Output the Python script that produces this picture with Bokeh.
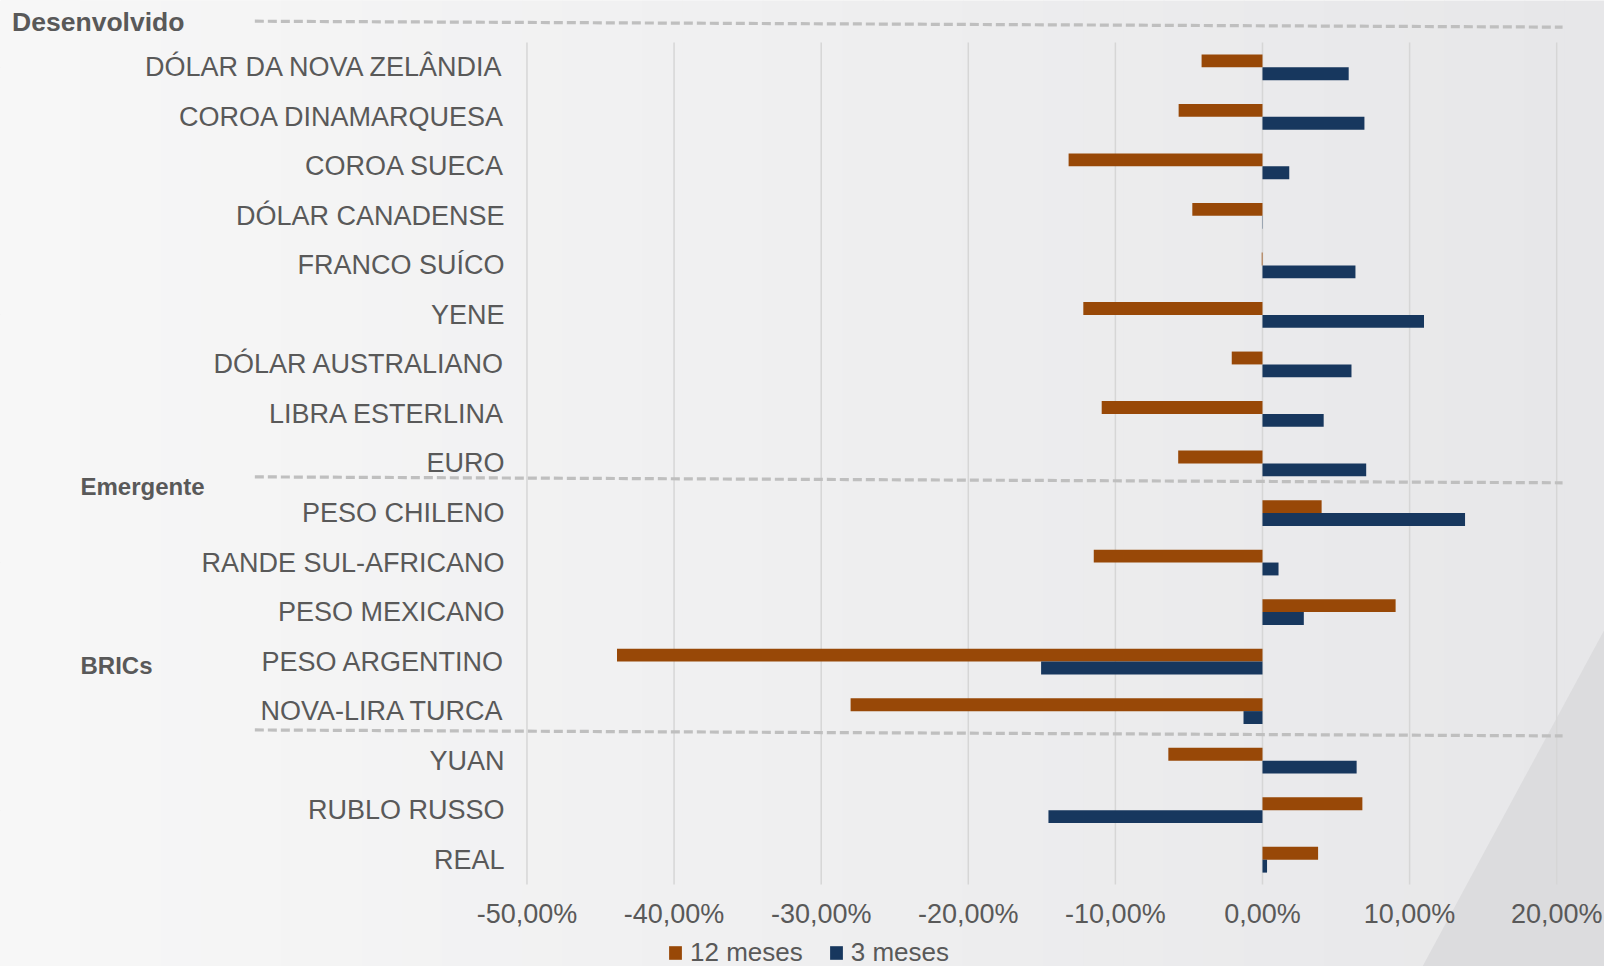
from bokeh.plotting import figure
from bokeh.models import (Range1d, FixedTicker, CustomJSTickFormatter, ColumnDataSource,
                          Legend, LegendItem, PolyAnnotation)
from bokeh.transform import dodge
from bokeh.core.properties import value
from bokeh.embed import file_html
from bokeh.resources import INLINE

# ---------------- data ----------------
categories = ["DÓLAR DA NOVA ZELÂNDIA", "COROA DINAMARQUESA", "COROA SUECA", "DÓLAR CANADENSE",
              "FRANCO SUÍCO", "YENE", "DÓLAR AUSTRALIANO", "LIBRA ESTERLINA", "EURO",
              "PESO CHILENO", "RANDE SUL-AFRICANO", "PESO MEXICANO", "PESO ARGENTINO",
              "NOVA-LIRA TURCA", "YUAN", "RUBLO RUSSO", "REAL"]
var_12_meses = [-4.14, -5.70, -13.18, -4.77, -0.05, -12.18, -2.09, -10.93, -5.73,
                4.02, -11.47, 9.05, -43.88, -28.00, -6.40, 6.79, 3.78]
var_3_meses = [5.86, 6.93, 1.82, 0.02, 6.32, 10.98, 6.05, 4.16, 7.05,
               13.77, 1.09, 2.81, -15.05, -1.29, 6.40, -14.55, 0.31]
x_ticks = [-50, -40, -30, -20, -10, 0, 10, 20]
series_names = ["12 meses", "3 meses"]
groups = ["Desenvolvido", "Emergente", "BRICs"]

# ---------------- layout / style ----------------
W, H = 1604, 966
C12, C3 = "#984807", "#17375E"
TXT = "#595959"
FONT = "Liberation Sans"
BAR_H = 0.26
group_label_y = [-0.91, 8.47, 12.07]       # category-index units
group_label_x = [-85.0, -80.35, -80.35]
group_label_size = ["26.5px", "24px", "24px"]
sep_y = [-0.93, 8.27, 13.38]
sep_tilt = 0.12
sep_x0, sep_x1 = -68.5, 20.4
label_x = x_ticks[0] - 1.53

n = len(categories)
idx = list(range(n))
src = ColumnDataSource(dict(cat=categories, idx=idx, v12=var_12_meses, v3=var_3_meses,
                            lx=[label_x] * n))

p = figure(width=W, height=H, output_backend="svg", toolbar_location=None,
           x_range=Range1d(-85.79, 23.25), y_range=Range1d(18.156, -1.348),
           y_axis_location=None, min_border_left=0, min_border_right=0,
           min_border_top=0, min_border_bottom=0,
           background_fill_color="#efeff0", border_fill_color="#efeff0")
p.outline_line_color = None
p.xgrid.grid_line_color = None

# background gradient (decorative)
nb = 40
lrgb, rrgb = (247, 247, 247), (231, 231, 233)
for k in range(nb):
    t = k / (nb - 1)
    c = "#%02x%02x%02x" % tuple(round(a + (b - a) * t) for a, b in zip(lrgb, rrgb))
    x0 = W * k / nb
    x1 = W * (k + 1) / nb + 1
    p.add_layout(PolyAnnotation(xs=[x0, x1, x1, x0], ys=[0, 0, H, H],
                                xs_units="canvas", ys_units="canvas",
                                fill_color=c, fill_alpha=1, line_alpha=0, level="underlay"))
p.add_layout(PolyAnnotation(xs=[1604, 1422, 1604], ys=[629, 966, 966],
                            xs_units="canvas", ys_units="canvas",
                            fill_color="#dcdcde", fill_alpha=1, line_alpha=0, level="underlay"))

# gridlines
p.segment(x0=x_ticks, x1=x_ticks, y0=[-0.5] * len(x_ticks), y1=[n - 0.5] * len(x_ticks),
          line_color="#d6d6d6", line_width=1.5)

# group separators
p.segment(x0=[sep_x0] * 3, x1=[sep_x1] * 3, y0=sep_y, y1=[s + sep_tilt for s in sep_y],
          line_color="#bfbfbf", line_width=3.2, line_dash="9 4")

# bars
r12 = p.hbar(y=dodge("idx", -BAR_H / 2, range=p.y_range), left=0, right="v12", height=BAR_H,
             source=src, fill_color=C12, line_color=None)
r3 = p.hbar(y=dodge("idx", BAR_H / 2, range=p.y_range), left=0, right="v3", height=BAR_H,
            source=src, fill_color=C3, line_color=None)

# category labels
p.text(x="lx", y="idx", text="cat", source=src, text_align="right", text_baseline="middle",
       text_font=value(FONT), text_font_size="27px", text_color=TXT)

# group labels
for g, gx, gy, gs in zip(groups, group_label_x, group_label_y, group_label_size):
    p.text(x=[gx], y=[gy], text=[g], text_align="left", text_baseline="middle",
           text_font=value(FONT), text_font_size=gs, text_font_style="bold", text_color=TXT)

# x axis, fixed at the bottom of the category area
ax = p.xaxis[0]
ax.fixed_location = n - 0.5
ax.ticker = FixedTicker(ticks=x_ticks)
ax.formatter = CustomJSTickFormatter(code="return tick.toFixed(2).replace('.', ',') + '%';")
ax.axis_line_color = None
ax.major_tick_line_color = None
ax.minor_tick_line_color = None
ax.major_tick_out = 0
ax.major_tick_in = 0
ax.minor_tick_out = 0
ax.major_label_text_font = FONT
ax.major_label_text_font_size = "27px"
ax.major_label_text_color = TXT
ax.major_label_standoff = 15

legend = Legend(items=[LegendItem(label=series_names[0], renderers=[r12]),
                       LegendItem(label=series_names[1], renderers=[r3])],
                orientation="horizontal", location=(667, -2),
                glyph_width=16, glyph_height=17, label_standoff=7, spacing=25,
                padding=0, margin=0, background_fill_alpha=0, border_line_alpha=0,
                label_text_font=FONT, label_text_font_size="26px", label_text_color=TXT)
p.add_layout(legend)

open("out.html", "w").write(file_html(p, INLINE))
